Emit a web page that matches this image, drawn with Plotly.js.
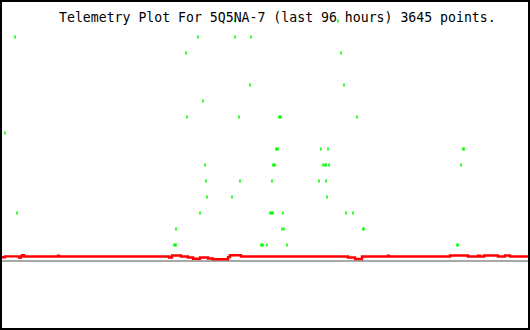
<!DOCTYPE html>
<html>
<head>
<meta charset="utf-8">
<script src="https://cdn.plot.ly/plotly-3.0.1.min.js"></script>
<style>html,body{margin:0;padding:0;background:#fff;}#chart{width:530px;height:330px;}</style>
</head>
<body>
<div id="chart"></div>
<script>
// Telemetry: hours into the 96-hour window, and reading levels
const titleText = "Telemetry Plot For 5Q5NA-7 (last 96 hours) 3645 points.";

// Main (red) telemetry series, step breakpoints
const mainHours = [0, 0.91, 3.44, 3.80, 3.98, 4.35, 10.51, 10.69, 30.61, 31.15, 32.78, 34.05, 34.96, 36.23, 37.68, 38.58, 41.30, 41.66, 43.65, 63.03, 64.30, 65.57, 70.28, 70.46, 81.51, 84.77, 86.58, 86.94, 87.67, 90.20, 91.47, 92.38, 96];
const mainValues = [0.23, 0.29, 0.21, 0.29, 0.36, 0.28, 0.33, 0.28, 0.22, 0.34, 0.28, 0.22, 0.14, 0.22, 0.16, 0.11, 0.25, 0.36, 0.28, 0.22, 0.125, 0.28, 0.33, 0.28, 0.34, 0.28, 0.33, 0.28, 0.34, 0.28, 0.34, 0.28, 0.28];

// Secondary (green) scattered readings
const greenHours = [
  42.57, 61.22,
  2.72, 35.86, 42.57, 45.46,
  33.69, 61.77,
  45.28, 62.31,
  36.77,
  33.87, 43.29, 50.54, 50.72, 50.90, 64.66,
  0.91,
  49.99, 50.17, 50.35, 58.14, 59.41, 83.86, 84.05,
  37.13, 49.45, 49.63, 49.81, 58.51, 58.87, 59.05, 59.59, 83.50,
  37.31, 43.47, 49.27, 57.78, 59.05,
  37.49, 42.02, 59.23,
  3.08, 36.23, 48.91, 49.09, 49.27, 49.45, 51.26, 62.67, 63.94,
  31.88, 51.08, 51.44, 65.75, 65.93,
  31.52, 31.70, 31.88, 47.28, 47.46, 47.64, 48.36, 51.98, 82.78, 82.96
];
const greenLevels = [
  15, 15,
  14, 14, 14, 14,
  13, 13,
  11, 11,
  10,
  9, 9, 9, 9, 9, 9,
  8,
  7, 7, 7, 7, 7, 7, 7,
  6, 6, 6, 6, 6, 6, 6, 6, 6,
  5, 5, 5, 5, 5,
  4, 4, 4,
  3, 3, 3, 3, 3, 3, 3, 3, 3,
  2, 2, 2, 2, 2,
  1, 1, 1, 1, 1, 1, 1, 1, 1, 1
];

const traces = [
  {
    x: greenHours, y: greenLevels, type: 'scatter', mode: 'markers',
    marker: {symbol: 'line-ns', size: 2, color: '#00ff00', line: {color: '#00ff00', width: 1.6}},
    hoverinfo: 'skip', showlegend: false
  },
  {
    x: mainHours, y: mainValues, type: 'scatter', mode: 'lines',
    line: {color: '#ff0000', width: 2.4, shape: 'hv'},
    hoverinfo: 'skip', showlegend: false
  }
];

const layout = {
  width: 530, height: 330,
  margin: {l: 0, r: 0, t: 0, b: 0, pad: 0},
  paper_bgcolor: '#ffffff', plot_bgcolor: '#ffffff',
  showlegend: false,
  title: {
    text: titleText,
    font: {family: 'DejaVu Sans Mono, monospace', size: 13.2, color: '#000000'},
    x: 59/530, xanchor: 'left', xref: 'paper',
    y: 1 - 17.5/330, yanchor: 'middle', yref: 'container'
  },
  xaxis: {range: [0, 96], showgrid: false, zeroline: false, showticklabels: false, ticks: '', showline: false, fixedrange: true},
  yaxis: {range: [-4.3125, 16.3125], showgrid: false, zeroline: true, zerolinecolor: '#a8a8a8', zerolinewidth: 2.5, showticklabels: false, ticks: '', showline: false, fixedrange: true},
  shapes: [{
    type: 'rect', xref: 'paper', yref: 'paper',
    x0: 1/530, x1: 529/530, y0: 1/330, y1: 329/330,
    line: {color: '#000000', width: 2}, fillcolor: 'rgba(0,0,0,0)', layer: 'above'
  }]
};

Plotly.newPlot('chart', traces, layout, {displayModeBar: false, staticPlot: true});
</script>
</body>
</html>
